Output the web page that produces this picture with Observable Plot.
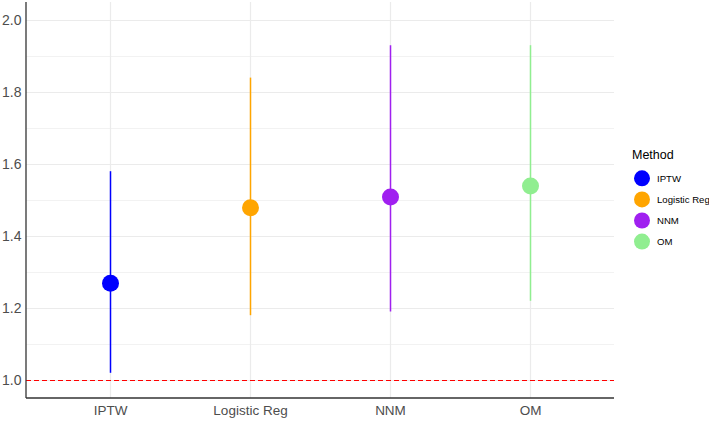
<!DOCTYPE html>
<html><head><meta charset="utf-8">
<script src="https://cdn.jsdelivr.net/npm/d3@7"></script>
<script src="https://cdn.jsdelivr.net/npm/@observablehq/plot@0.6"></script>
<style>body{margin:0;background:#fff} #chart{width:709px;height:421px}</style>
</head><body><div id="chart"></div>
<script>
const methods = ["IPTW", "Logistic Reg", "NNM", "OM"];
const estimates = [1.27, 1.48, 1.51, 1.54];
const lower = [1.02, 1.18, 1.19, 1.22];
const upper = [1.58, 1.84, 1.93, 1.93];
const colors = ["#0000FF", "#FFA500", "#A020F0", "#90EE90"];
const yMajor = [1.0, 1.2, 1.4, 1.6, 1.8, 2.0];
const yMinor = [1.1, 1.3, 1.5, 1.7, 1.9];
const reference = 1.0;
const legendTitle = "Method";

const data = methods.map((m, i) => ({method: m, est: estimates[i], lo: lower[i], hi: upper[i]}));
const font = "'Liberation Sans', Arial, sans-serif";

const plot = Plot.plot({
  width: 709, height: 421,
  marginLeft: 26, marginRight: 95, marginTop: 2, marginBottom: 23,
  style: {fontFamily: font, background: "#fff", overflow: "visible"},
  x: {type: "point", domain: methods, padding: 0.6, label: null},
  y: {domain: [0.95, 2.05], label: null},
  color: {domain: methods, range: colors},
  marks: [
    Plot.ruleY(yMinor, {stroke: "#EDEDED", strokeWidth: 0.7}),
    Plot.ruleY(yMajor, {stroke: "#EBEBEB", strokeWidth: 1.2}),
    Plot.ruleX(methods, {x: d => d, stroke: "#EBEBEB", strokeWidth: 1.2}),
    Plot.ruleY([reference], {stroke: "#FF0000", strokeDasharray: "5,3", strokeWidth: 1.2}),
    Plot.ruleX(data, {x: "method", y1: "lo", y2: "hi", stroke: "method", strokeWidth: 1.5}),
    Plot.dot(data, {x: "method", y: "est", fill: "method", r: 8.5}),
    Plot.axisY({ticks: yMajor, tickFormat: ".1f", tickSize: 0, tickPadding: 5, fontSize: 14, fill: "#4D4D4D", label: null}),
    Plot.axisX({tickSize: 0, tickPadding: 7, fontSize: 13.5, fill: "#4D4D4D", label: null})
  ]
});

document.getElementById("chart").appendChild(plot);

// axis lines (left and bottom) from the scales' ranges
const svg = d3.select(plot);
const yr = plot.scale("y").range;
const left = 26, right = 709 - 95;
svg.append("line").attr("x1", left).attr("x2", left).attr("y1", yr[1]).attr("y2", yr[0])
  .attr("stroke", "#333").attr("stroke-width", 1.3);
svg.append("line").attr("x1", left).attr("x2", right).attr("y1", yr[0]).attr("y2", yr[0])
  .attr("stroke", "#333").attr("stroke-width", 1.3);

// legend
const lg = svg.append("g").attr("font-family", font).attr("text-anchor", "start");
lg.append("text").attr("x", 632).attr("y", 159).attr("font-size", 12.5).attr("fill", "#000").text(legendTitle);
methods.forEach((m, i) => {
  const cy = 178.3 + i * 21.1;
  lg.append("circle").attr("cx", 642).attr("cy", cy).attr("r", 8).attr("fill", colors[i]);
  lg.append("text").attr("x", 657).attr("y", cy).attr("dy", "0.35em").attr("font-size", 9.6).attr("fill", "#000").text(m);
});
</script>
</body></html>
